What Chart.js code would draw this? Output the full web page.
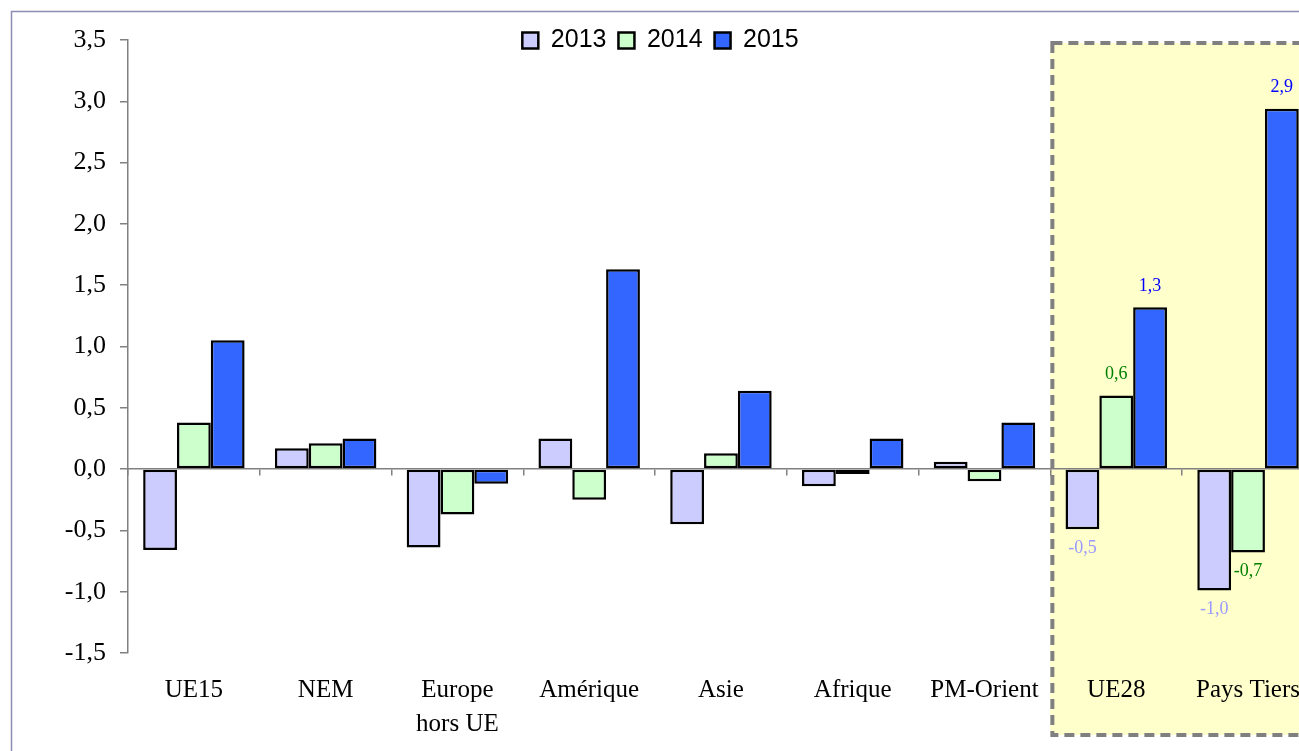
<!DOCTYPE html>
<html>
<head>
<meta charset="utf-8">
<script src="https://cdn.jsdelivr.net/npm/chart.js@4/dist/chart.umd.min.js"></script>
<style>
  html, body { margin: 0; padding: 0; background: #fff; overflow: hidden; }
  canvas { display: block; }
</style>
</head>
<body>
<canvas id="chart" width="1321" height="751"></canvas>
<script>
// catégories et valeurs
const categories = ['UE15', 'NEM', ['Europe', 'hors UE'], 'Amérique', 'Asie', 'Afrique', 'PM-Orient', 'UE28', 'Pays Tiers'];
const years = ['2013', '2014', '2015'];
const values2013 = [-0.66, 0.17, -0.64, 0.25, -0.45, -0.14, 0.06, -0.49, -0.99];
const values2014 = [0.38, 0.21, -0.37, -0.25, 0.13, -0.04, -0.10, 0.60, -0.68];
const values2015 = [1.05, 0.25, -0.12, 1.63, 0.64, 0.25, 0.38, 1.32, 2.94];
const yTicks = [-1.5, -1.0, -0.5, 0.0, 0.5, 1.0, 1.5, 2.0, 2.5, 3.0, 3.5];
// catégories mises en évidence (zone jaune + étiquettes)
const highlighted = ['UE28', 'Pays Tiers'];

const fillColors = ['#CCCCFF', '#CCFFCC', '#3366FF'];
const labelColors = ['#9999FF', '#008000', '#0000FF'];

const fmt = v => v.toFixed(1).replace('.', ',');

// cadre extérieur et zone jaune en pointillés
const zonePlugin = {
  id: 'zone',
  beforeDraw(chart) {
    const ctx = chart.ctx;
    const x = chart.scales.x;
    const area = chart.chartArea;
    ctx.save();
    ctx.strokeStyle = '#8c8cb4';
    ctx.lineWidth = 1.5;
    ctx.strokeRect(11.5, 11.5, chart.width + 20, chart.height + 20);

    const first = categories.indexOf(highlighted[0]);
    const step = x.getPixelForValue(1) - x.getPixelForValue(0);
    const left = x.getPixelForValue(first) - step / 2;
    const top = area.top + 3;
    const bottom = chart.height - 16;
    ctx.fillStyle = '#FFFFCC';
    ctx.fillRect(left, top, chart.width, bottom - top);
    ctx.setLineDash([10, 6]);
    ctx.strokeStyle = '#808080';
    ctx.lineWidth = 4;
    ctx.strokeRect(left + 2, top, chart.width, bottom - top);
    ctx.restore();
  }
};

// étiquettes de valeurs pour UE28 et Pays Tiers
const valueLabels = {
  id: 'valueLabels',
  afterDatasetsDraw(chart) {
    const ctx = chart.ctx;
    ctx.save();
    ctx.font = '18px "Liberation Serif"';
    ctx.textAlign = 'center';
    ctx.textBaseline = 'middle';
    chart.data.datasets.forEach((ds, i) => {
      const meta = chart.getDatasetMeta(i);
      meta.data.forEach((bar, j) => {
        if (!highlighted.includes(categories[j])) return;
        const v = ds.data[j];
        const y = v >= 0 ? bar.y - 21 : bar.y + 19;
        ctx.fillStyle = labelColors[i];
        ctx.fillText(fmt(v), bar.x, y);
      });
    });
    ctx.restore();
  }
};

// la légende chevauche le haut de la zone de tracé
const legendFit = {
  id: 'legendFit',
  beforeLayout(chart) {
    const lg = chart.legend;
    if (lg && !lg._fitPatched) {
      const fit = lg.fit;
      lg.fit = function () { fit.call(this); this.height = 24; };
      lg._fitPatched = true;
    }
  },
  afterLayout(chart) {
    if (chart.legend) chart.legend.bottom = chart.legend.top + 60;
  }
};

const ctx = document.getElementById('chart').getContext('2d');

new Chart(ctx, {
  type: 'bar',
  data: {
    labels: categories,
    datasets: [values2013, values2014, values2015].map((data, i) => ({
      label: years[i],
      data: data,
      xAxisID: 'x',
      yAxisID: 'y',
      backgroundColor: fillColors[i],
      borderColor: '#000000',
      borderWidth: 2.5,
      borderSkipped: false,
      barPercentage: 1,
      categoryPercentage: 0.77
    }))
  },
  options: {
    responsive: false,
    animation: false,
    layout: { padding: { top: 16, left: 0, right: 0, bottom: 0 } },
    plugins: {
      legend: {
        position: 'top',
        align: 'center',
        labels: {
          boxWidth: 16,
          boxHeight: 16,
          padding: 12,
          color: '#000000',
          font: { family: 'Liberation Sans', size: 25 }
        }
      },
      tooltip: { enabled: false }
    },
    scales: {
      x: {
        type: 'category',
        offset: true,
        grid: { display: false, drawTicks: false },
        border: { display: false },
        ticks: {
          color: '#000000',
          font: { family: 'Liberation Serif', size: 25, lineHeight: 1.35 },
          padding: 21,
          maxRotation: 0,
          autoSkip: false
        },
        afterFit: s => { s.height = 98; }
      },
      x2: {
        type: 'category',
        position: { y: 0 },
        offset: true,
        ticks: { display: false },
        grid: { offset: true, drawOnChartArea: false, tickLength: 6, color: '#808080', lineWidth: 1.5 },
        border: { color: '#808080', width: 1.5 }
      },
      y: {
        min: yTicks[0],
        max: yTicks[yTicks.length - 1],
        ticks: {
          stepSize: yTicks[1] - yTicks[0],
          callback: v => fmt(v),
          color: '#000000',
          font: { family: 'Liberation Serif', size: 26 },
          padding: 14
        },
        grid: { drawOnChartArea: false, tickLength: 8, color: '#808080', lineWidth: 1.5 },
        border: { color: '#808080', width: 1.5 },
        afterFit: s => { s.width = 128; }
      }
    }
  },
  plugins: [zonePlugin, valueLabels, legendFit]
});
</script>
</body>
</html>
